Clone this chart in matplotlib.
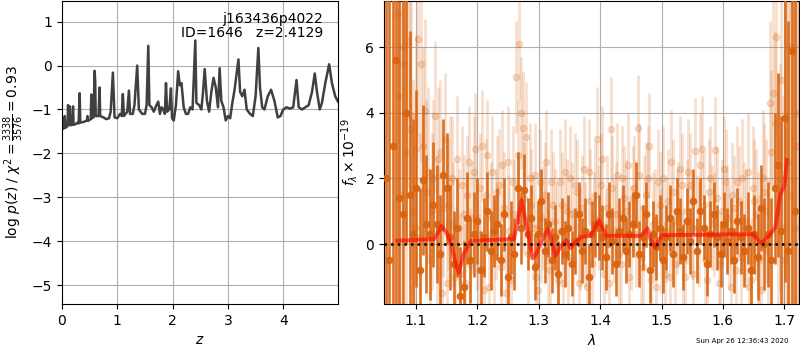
"""
Redshift fit summary: log p(z) on the left, 1D grism spectrum + model on the right.
Writes out.png (800x350).
"""

import matplotlib
matplotlib.use("Agg")
import matplotlib.pyplot as plt
import numpy as np

# --- p(z) curve --------------------------------------------------------------
zgrid = [
    0.00, 0.02, 0.04, 0.05, 0.06, 0.08, 0.10, 0.11, 0.12, 0.14, 0.15, 0.18,
    0.20, 0.21, 0.25, 0.28, 0.30, 0.32, 0.33, 0.40, 0.45, 0.46, 0.47, 0.52,
    0.53, 0.54, 0.57, 0.59, 0.60, 0.61, 0.66, 0.68, 0.69, 0.75, 0.80, 0.85,
    0.88, 0.92, 0.95, 1.00, 1.05, 1.08, 1.10, 1.12, 1.18, 1.21, 1.23, 1.28,
    1.31, 1.36, 1.39, 1.45, 1.50, 1.53, 1.56, 1.58, 1.62, 1.66, 1.70, 1.74,
    1.77, 1.80, 1.83, 1.86, 1.88, 1.90, 1.94, 1.97, 1.99, 2.02, 2.06, 2.10,
    2.13, 2.16, 2.20, 2.24, 2.28, 2.32, 2.36, 2.41, 2.43, 2.48, 2.52, 2.55,
    2.58, 2.62, 2.66, 2.70, 2.74, 2.78, 2.82, 2.85, 2.88, 2.92, 2.96, 3.00,
    3.04, 3.08, 3.12, 3.15, 3.19, 3.22, 3.26, 3.30, 3.34, 3.40, 3.45, 3.50,
    3.55, 3.58, 3.62, 3.66, 3.72, 3.78, 3.84, 3.90, 3.95, 4.00, 4.06, 4.12,
    4.18, 4.24, 4.28, 4.34, 4.40, 4.46, 4.52, 4.57, 4.61, 4.66, 4.70, 4.76,
    4.83, 4.88, 4.94, 4.99,
]
log_pz = [
    -1.38, -1.44, -1.42, -1.15, -1.42, -1.40, -1.38, -0.90, -1.35, -0.93, -1.36, -1.35,
    -0.93, -1.35, -1.33, -1.30, -1.32, -0.63, -1.30, -1.28, -1.25, -1.15, -1.26, -1.22,
    -0.66, -1.20, -1.18, -0.12, -0.35, -1.15, -1.15, -0.50, -1.15, -1.18, -1.22, -1.20,
    -1.05, -0.16, -1.18, -1.20, -1.10, -1.15, -0.65, -1.15, -1.05, -0.57, -1.10, -1.10,
    -0.90, 0.00, -1.00, -1.10, -1.10, -0.90, 0.45, -0.90, -0.95, -1.05, -0.92, -0.82,
    -1.10, -0.95, -1.00, -1.10, -0.40, -1.05, -1.00, -0.52, -1.20, -1.25, -0.90, -0.13,
    -0.45, -0.40, -0.95, -1.10, -1.10, -0.95, -1.00, 0.57, -0.85, -0.90, -1.00, -0.60,
    -0.08, -0.80, -1.05, -0.60, -0.28, -0.50, -0.95, -0.06, -0.80, -0.95, -1.25, -1.15,
    -1.20, -0.85, -0.55, -0.25, 0.14, -0.60, -0.70, -0.55, -1.00, -1.10, -1.15, -0.70,
    0.40, -0.50, -0.95, -1.00, -0.70, -0.55, -0.80, -1.18, -1.15, -1.00, -0.95, -0.98,
    -0.95, -0.33, -0.95, -1.00, -0.95, -0.90, -0.60, -0.18, -0.60, -1.00, -0.85, -0.40,
    0.03, -0.40, -0.70, -0.82,
]

# --- grism spectrum (three extractions on the same regular pixel grid) ------
WAVE0_DARK, WAVE0_LIGHT_A, WAVE0_LIGHT_B, DWAVE = 1.0515, 1.0707, 1.0734, 0.0055

flux_dark = [
    2.0, -0.5, 3.0,
    5.6, 1.4, 0.9, 4.0, 1.5, 0.3, 1.7, -0.8, 1.95, 0.6,
    0.3, 1.2, 0.6, -0.3, 2.1, 1.7, 0.2, -0.6, 0.5, -1.6,
    -1.3, 0.8, -0.5, 0.3, 0.7, -0.8, 0.2, 1.0, -0.2, 0.4,
    0.6, -0.5, 0.9, -1.0, 0.2, -0.3, 1.7, 0.5, 1.65, 0.3,
    0.8, -0.7, 0.3, 1.3, -0.2, 0.6, -0.5, 0.2, -0.9, 0.4,
    -0.3, 0.5, -0.6, 0.1, 0.9, -0.2, 0.4, -1.0, 0.3, 0.6,
    0.5, 0.2, -0.4, 0.9, 0.1, -0.6, 0.4, 0.8, -0.2, 0.3,
    0.6, 1.5, -0.3, 0.2, 0.9, -0.8, 0.3, -0.1, 0.5, -0.5,
    0.2, 0.8, -0.3, 1.0, 0.4, -0.4, 0.7, 0.1, 1.3, -0.2,
    1.0, 0.5, -0.6, 0.3, 0.9, 0.2, -0.3, 0.6, 0.1, 0.4,
    -0.5, 0.7, 0.2, -0.2, 0.5, -0.8, 0.3, -0.4, 1.1, 0.0,
    0.3, -0.5, 1.7, 2.4, 0.4, 3.85, -0.2, 5.9, 1.0,
]
err_dark = [
    11.0, 9.0, 10.0,
    8.0, 6.0, 7.0, 4.0, 5.0, 3.5, 3.0, 2.5, 2.3, 2.1,
    2.0, 1.9, 1.8, 1.8, 1.7, 1.7, 1.6, 1.6, 1.5, 1.5,
    1.4, 1.4, 1.3, 1.3, 1.3, 1.2, 1.2, 1.2, 1.2, 1.1,
    1.1, 1.1, 1.1, 1.1, 1.1, 1.1, 1.1, 1.1, 1.1, 1.1,
    1.0, 1.0, 1.0, 1.0, 1.0, 1.0, 1.0, 1.0, 1.0, 1.0,
    1.0, 1.0, 1.0, 1.0, 1.0, 1.0, 1.0, 1.0, 1.0, 1.0,
    1.0, 1.0, 1.0, 1.0, 1.0, 1.0, 1.0, 1.0, 1.0, 1.0,
    1.0, 1.0, 1.0, 1.0, 1.0, 1.0, 1.0, 1.0, 1.0, 1.0,
    1.0, 1.0, 1.0, 1.0, 1.0, 1.0, 1.0, 1.0, 1.0, 1.0,
    1.0, 1.0, 1.0, 1.0, 1.0, 1.0, 1.0, 1.0, 1.0, 1.0,
    1.0, 1.0, 1.1, 1.1, 1.1, 1.2, 1.2, 1.3, 1.3, 1.4,
    1.6, 1.9, 2.3, 2.8, 3.5, 5.0, 7.0, 9.0, 10.0,
]
flux_light_a = [
    7.0, 1.5, 5.5, 6.2, 3.9, 0.5, 6.25, 5.5, 4.05, 2.2,
    1.0, 3.9, 2.6, -1.5, 3.2, 1.2, 2.0, -1.0, 0.5, 1.8,
    -1.2, 2.5, 0.8, 2.9, -0.8, 3.0, 1.5, -1.3, 2.2, 0.6,
    1.8, 2.4, -1.5, 0.4, 1.9, 5.1, 6.1, 3.55, 3.25, 2.0,
    0.5, -1.0, 1.9, 0.8, 2.5, -0.8, 1.2, 0.3, 1.9, -1.2,
    1.0, 2.0, -0.5, 1.6, 0.2, 2.3, -1.3, 1.3, 0.6, 3.2,
    1.8, -0.9, 1.1, 3.5, 0.4, 2.1, -0.6, 1.4, 2.4, 0.2,
    1.7, 3.55, -0.4, 1.1, 2.0, -1.1, 0.7, 1.9, 0.1, -0.9,
    1.3, 2.5, -0.6, 0.9, 1.8, -1.0, 2.2, 0.5, 2.85, 0.3,
    2.9, -0.5, 1.6, 0.8, 2.87, -1.2, 1.0, 1.9, 0.2, 1.5,
    -0.8, 1.3, 2.0, 0.5, -1.3, 1.7, 0.9, -0.5, 2.0, 1.0,
    4.3, 4.6, 6.3, 2.0, 0.5, 7.5, 1.5, 8.0, 3.0,
]
flux_light_b = [
    4.5, 6.0, 2.8, 3.5, 1.0, 2.9, 0.2, 3.0, 1.6, -0.5,
    2.0, 0.4, 2.8, 1.1, -1.2, 1.9, 0.6, 2.6, -0.9, 0.9,
    1.5, -0.6, 2.2, 0.3, 1.7, -1.4, 2.7, 0.8, -0.4, 1.6,
    -0.7, 1.1, 2.5, -1.1, 0.9, 2.7, 4.0, 1.4, -0.3, 1.2,
    2.1, -1.4, 0.4, 1.5, -0.5, 1.9, 0.7, -1.1, 1.2, 2.2,
    -0.4, 0.9, 1.8, -1.2, 1.1, 0.3, 2.2, -0.6, 1.5, 0.8,
    2.6, 0.1, -1.2, 1.7, 0.9, -0.3, 2.0, 1.0, -1.0, 1.4,
    0.3, 2.1, -0.7, 1.5, 3.0, 0.6, -1.3, 1.2, 2.0, 0.4,
    -1.0, 1.6, 0.7, 2.3, -0.5, 1.0, 1.8, -0.9, 0.5, 2.4,
    1.2, -1.1, 2.0, 0.6, 1.4, -0.6, 2.3, 0.8, -1.3, 1.1,
    1.9, -0.4, 0.7, 2.2, -1.1, 1.3, 0.2, -1.4, 1.6, -0.2,
    2.8, 3.7, 1.0, 5.0, -0.5, 2.5, 6.0, 0.5, 4.0,
]
err_light = [
    7.0, 6.0, 5.0, 4.5, 4.0, 3.5, 3.2, 3.0, 2.8, 2.6,
    2.4, 2.3, 2.2, 2.1, 2.0, 2.0, 1.9, 1.9, 1.8, 1.8,
    1.8, 1.7, 1.7, 1.7, 1.7, 1.7, 1.7, 1.7, 1.7, 1.7,
    1.7, 1.7, 1.7, 1.7, 1.7, 1.7, 1.7, 1.7, 1.7, 1.7,
    1.6, 1.6, 1.6, 1.6, 1.6, 1.6, 1.6, 1.6, 1.6, 1.6,
    1.6, 1.6, 1.6, 1.6, 1.6, 1.6, 1.6, 1.6, 1.6, 1.6,
    1.6, 1.6, 1.6, 1.6, 1.6, 1.6, 1.6, 1.6, 1.6, 1.6,
    1.6, 1.6, 1.6, 1.6, 1.6, 1.6, 1.6, 1.6, 1.6, 1.6,
    1.6, 1.6, 1.6, 1.6, 1.6, 1.6, 1.6, 1.6, 1.6, 1.6,
    1.6, 1.6, 1.6, 1.6, 1.6, 1.6, 1.6, 1.6, 1.6, 1.6,
    1.7, 1.7, 1.8, 1.8, 1.9, 1.9, 2.0, 2.0, 2.1, 2.2,
    2.5, 2.8, 3.0, 3.5, 4.0, 5.0, 6.0, 8.0, 9.0,
]

# best-fit template
model_wave = [
    1.070, 1.130, 1.135, 1.142, 1.150, 1.158, 1.165, 1.170, 1.178, 1.190,
    1.260, 1.265, 1.272, 1.280, 1.290, 1.295, 1.305, 1.315, 1.320, 1.327,
    1.335, 1.345, 1.352, 1.360, 1.370, 1.385, 1.398, 1.410, 1.465, 1.472,
    1.477, 1.483, 1.490, 1.500, 1.650, 1.657, 1.662, 1.675, 1.685, 1.693,
    1.700, 1.704,
]
model_flux = [
    0.10, 0.15, 0.30, 0.55, 0.35, 0.00, -0.60, -0.88, -0.30, 0.10,
    0.15, 0.60, 1.34, 0.60, -0.43, -0.35, 0.10, 0.45, 0.20, -0.37,
    -0.10, 0.12, -0.12, 0.05, 0.22, 0.25, 0.73, 0.25, 0.25, 0.35,
    0.48, 0.10, -0.10, 0.27, 0.30, 0.10, 0.03, 0.25, 0.50, 1.50,
    1.80, 2.56,
]

LABEL = "j163436p4022\nID=1646   z=2.4129"
STAMP = "Sun Apr 26 12:36:43 2020"
ORANGE = (0.85, 0.39, 0.06)


def pixel_grid(start, n):
    return start + DWAVE * np.arange(n)


def main() -> None:
    fig = plt.figure(figsize=(8, 3.5), dpi=100)

    # left: p(z)
    ax = fig.add_axes([0.0775, 0.1314, 0.345, 0.8657])
    ax.plot(zgrid, log_pz, color="0.25", lw=1.8)
    ax.set_xlim(0, 4.99)
    ax.set_ylim(-5.43, 1.47)
    ax.set_xticks([0, 1, 2, 3, 4])
    ax.set_xlabel(r"$z$")
    ax.set_ylabel(r"log $p(z)$ / $\chi^2=\frac{3338}{3576}=0.93$")
    ax.grid()
    ax.text(0.945, 0.965, LABEL, transform=ax.transAxes, ha="right", va="top",
            fontsize=10, linespacing=1.0)

    # right: spectrum
    ax2 = fig.add_axes([0.48, 0.1314, 0.519, 0.8657])
    for start, flux in ((WAVE0_LIGHT_A, flux_light_a), (WAVE0_LIGHT_B, flux_light_b)):
        ax2.errorbar(pixel_grid(start, len(flux)), flux, yerr=err_light, fmt="o",
                     color=ORANGE, alpha=0.2, ms=4.5, elinewidth=2.0, zorder=2)
    ax2.errorbar(pixel_grid(WAVE0_DARK, len(flux_dark)), flux_dark, yerr=err_dark,
                 fmt="o", color=ORANGE, alpha=0.9, ms=4.5, elinewidth=1.9, zorder=3)
    ax2.plot(model_wave, model_flux, color="r", alpha=0.6, lw=2.8, zorder=4)
    ax2.axhline(0, color="k", ls=":", lw=1.8, zorder=5)

    ax2.set_xlim(1.0484, 1.724)
    ax2.set_ylim(-1.83, 7.41)
    ax2.set_xticks([1.1, 1.2, 1.3, 1.4, 1.5, 1.6, 1.7])
    ax2.set_yticks([0, 2, 4, 6])
    ax2.set_xlabel(r"$\lambda$")
    ax2.set_ylabel(r"$f_\lambda\times10^{-19}$")
    ax2.grid()

    fig.text(0.985, 0.018, STAMP, ha="right", va="bottom", fontsize=5)

    fig.savefig("out.png", dpi=100)
    plt.close(fig)


if __name__ == "__main__":
    main()
